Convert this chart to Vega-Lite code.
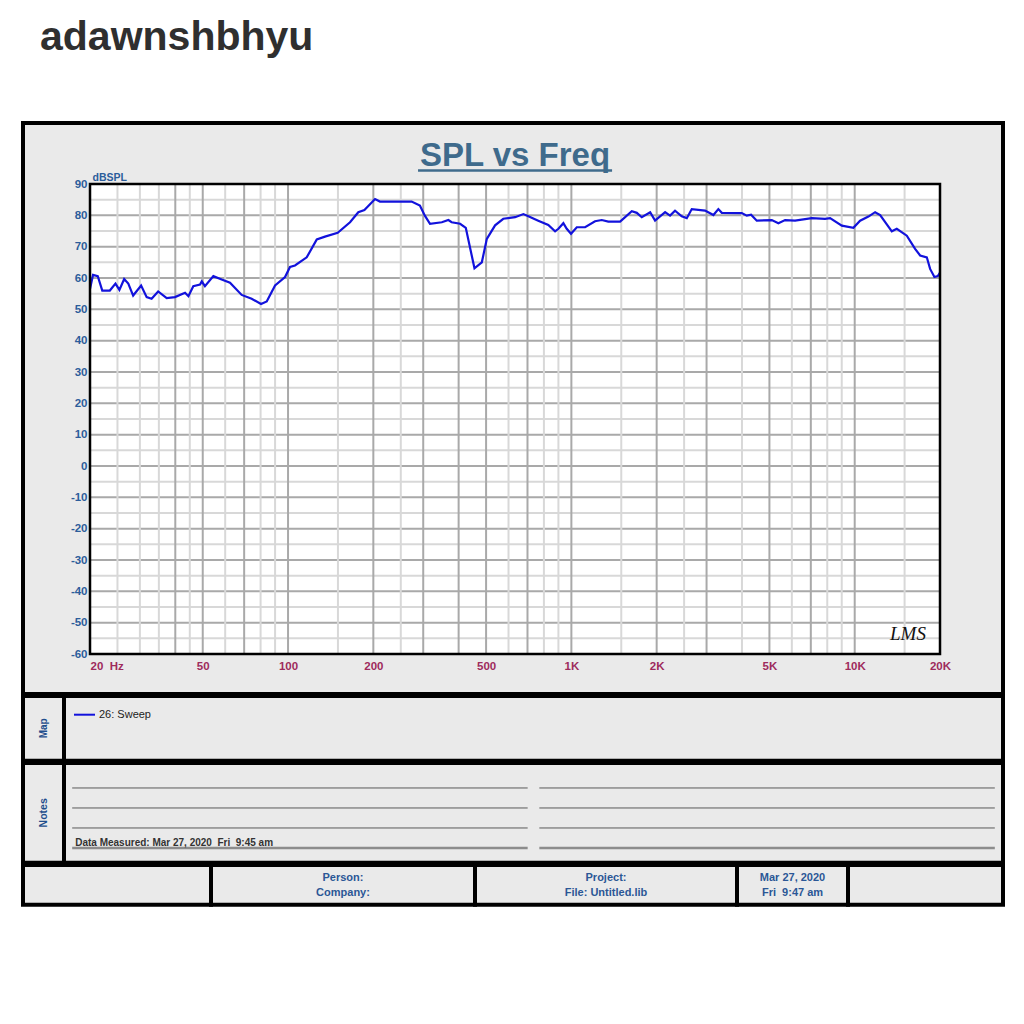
{
  "$schema": "https://vega.github.io/schema/vega-lite/v6.json",
  "background": "white",
  "padding": {"left": 21, "top": 17, "right": 0, "bottom": 0},
  "title": {"text": "adawnshbhyu", "anchor": "start", "fontSize": 41, "fontWeight": "bold", "font": "Liberation Sans", "color": "#2f2f2f", "dx": 19, "offset": 62},
  "config": {
    "view": {"fill": "#eaeaea", "stroke": "#000000", "strokeWidth": 4},
    "text": {"font": "Liberation Sans"},
    "axis": {"labelFont": "Liberation Sans", "titleFont": "Liberation Sans"},
    "legend": {"labelFont": "Liberation Sans"}
  },
  "datasets": {
    "sweep": [
      {"f": 20, "spl": 56.5}, {"f": 20.5, "spl": 61}, {"f": 21.3, "spl": 60.6}, {"f": 22.1, "spl": 56}, {"f": 23.5, "spl": 56},
      {"f": 24.6, "spl": 58.2}, {"f": 25.4, "spl": 56.2}, {"f": 26.4, "spl": 59.7}, {"f": 27.3, "spl": 58.2}, {"f": 28.4, "spl": 54.4},
      {"f": 30.3, "spl": 57.6}, {"f": 31.7, "spl": 53.9}, {"f": 33.0, "spl": 53.4}, {"f": 34.8, "spl": 55.7}, {"f": 37.3, "spl": 53.6},
      {"f": 39.9, "spl": 53.9}, {"f": 43.3, "spl": 55.3}, {"f": 44.5, "spl": 54.2}, {"f": 46.3, "spl": 57.4}, {"f": 48.9, "spl": 57.9},
      {"f": 49.6, "spl": 58.9}, {"f": 50.9, "spl": 57.4}, {"f": 54.5, "spl": 60.6}, {"f": 58.3, "spl": 59.5}, {"f": 62.4, "spl": 58.5},
      {"f": 68.6, "spl": 54.6}, {"f": 74.4, "spl": 53.4}, {"f": 80.3, "spl": 51.7}, {"f": 84.1, "spl": 52.5}, {"f": 90, "spl": 57.6},
      {"f": 97.6, "spl": 60.3}, {"f": 101.6, "spl": 63.5}, {"f": 105.8, "spl": 64.0}, {"f": 116.4, "spl": 66.6}, {"f": 126.3, "spl": 72.3},
      {"f": 135, "spl": 73.2}, {"f": 149.7, "spl": 74.4}, {"f": 165.5, "spl": 77.8}, {"f": 177, "spl": 81}, {"f": 186, "spl": 81.7},
      {"f": 202.8, "spl": 85.2}, {"f": 211, "spl": 84.4}, {"f": 245, "spl": 84.4}, {"f": 273, "spl": 84.4}, {"f": 292, "spl": 83.1},
      {"f": 304, "spl": 79.9}, {"f": 317, "spl": 77.3}, {"f": 349, "spl": 77.8}, {"f": 368, "spl": 78.5}, {"f": 378, "spl": 77.8},
      {"f": 405, "spl": 77.3}, {"f": 424, "spl": 76}, {"f": 455, "spl": 63.1}, {"f": 483, "spl": 65}, {"f": 503, "spl": 72.5},
      {"f": 538, "spl": 76.8}, {"f": 575, "spl": 78.9}, {"f": 633, "spl": 79.4}, {"f": 677, "spl": 80.4}, {"f": 705, "spl": 79.7},
      {"f": 764, "spl": 78.3}, {"f": 829, "spl": 76.9}, {"f": 876, "spl": 74.9}, {"f": 900, "spl": 75.7}, {"f": 937, "spl": 77.5},
      {"f": 963, "spl": 75.7}, {"f": 997, "spl": 74.1}, {"f": 1045, "spl": 76.2}, {"f": 1118, "spl": 76.2}, {"f": 1212, "spl": 78.1},
      {"f": 1280, "spl": 78.5}, {"f": 1350, "spl": 78}, {"f": 1486, "spl": 78}, {"f": 1634, "spl": 81.3}, {"f": 1702, "spl": 80.8},
      {"f": 1772, "spl": 79.4}, {"f": 1897, "spl": 81}, {"f": 1974, "spl": 78.3}, {"f": 2142, "spl": 81}, {"f": 2230, "spl": 79.9},
      {"f": 2322, "spl": 81.5}, {"f": 2452, "spl": 79.7}, {"f": 2555, "spl": 79.1}, {"f": 2660, "spl": 82}, {"f": 2964, "spl": 81.5},
      {"f": 3172, "spl": 80.1}, {"f": 3302, "spl": 82}, {"f": 3396, "spl": 80.8}, {"f": 3994, "spl": 80.7}, {"f": 4160, "spl": 79.9},
      {"f": 4308, "spl": 80.2}, {"f": 4512, "spl": 78.3}, {"f": 5098, "spl": 78.5}, {"f": 5378, "spl": 77.5}, {"f": 5680, "spl": 78.5},
      {"f": 6158, "spl": 78.3}, {"f": 7054, "spl": 79.1}, {"f": 7858, "spl": 78.9}, {"f": 8186, "spl": 79.1}, {"f": 9006, "spl": 76.7},
      {"f": 9894, "spl": 76}, {"f": 10448, "spl": 78.3}, {"f": 11178, "spl": 79.6}, {"f": 11804, "spl": 81}, {"f": 12296, "spl": 80.1},
      {"f": 13520, "spl": 74.9}, {"f": 14078, "spl": 75.7}, {"f": 15270, "spl": 73.5}, {"f": 16336, "spl": 69.3}, {"f": 17016, "spl": 67.2},
      {"f": 17966, "spl": 66.6}, {"f": 18456, "spl": 62.9}, {"f": 19112, "spl": 60.3}, {"f": 19644, "spl": 60.6}, {"f": 20000, "spl": 61.7}
    ],
    "ygrid": [
      {"db": -55}, {"db": -50}, {"db": -45}, {"db": -40}, {"db": -35}, {"db": -30}, {"db": -25}, {"db": -20}, {"db": -15}, {"db": -10},
      {"db": -5}, {"db": 0}, {"db": 5}, {"db": 10}, {"db": 15}, {"db": 20}, {"db": 25}, {"db": 30}, {"db": 35}, {"db": 40},
      {"db": 45}, {"db": 50}, {"db": 55}, {"db": 60}, {"db": 65}, {"db": 70}, {"db": 75}, {"db": 80}, {"db": 85}
    ],
    "xgrid": [
      {"hz": 25}, {"hz": 30}, {"hz": 35}, {"hz": 40}, {"hz": 45}, {"hz": 50}, {"hz": 60}, {"hz": 70}, {"hz": 80}, {"hz": 90},
      {"hz": 100}, {"hz": 150}, {"hz": 200}, {"hz": 250}, {"hz": 300}, {"hz": 400}, {"hz": 500}, {"hz": 600}, {"hz": 700}, {"hz": 800},
      {"hz": 900}, {"hz": 1000}, {"hz": 1500}, {"hz": 2000}, {"hz": 2500}, {"hz": 3000}, {"hz": 4000}, {"hz": 5000}, {"hz": 6000},
      {"hz": 7000}, {"hz": 8000}, {"hz": 9000}, {"hz": 10000}, {"hz": 15000}
    ],
    "noteLines": [
      {"col": "L", "line": 1}, {"col": "R", "line": 1}, {"col": "L", "line": 2}, {"col": "R", "line": 2},
      {"col": "L", "line": 3}, {"col": "R", "line": 3}, {"col": "L", "line": 4}, {"col": "R", "line": 4}
    ]
  },
  "spacing": -8,
  "resolve": {"scale": {"color": "independent"}, "legend": {"color": "independent"}},
  "vconcat": [
    {
      "width": 980,
      "height": 571,
      "layer": [
        {
          "data": {"values": [{}]},
          "mark": {"type": "rect", "fill": "#ffffff"},
          "encoding": {
            "x": {"datum": 20, "type": "quantitative", "scale": {"type": "log", "domain": [20, 20000], "range": [67, 917], "nice": false},
              "axis": {"values": [20, 50, 100, 200, 500, 1000, 2000, 5000, 10000, 20000], "labelExpr": "datum.value == 20 ? '20\u00a0\u00a0Hz' : (datum.value >= 1000 ? (datum.value / 1000) + 'K' : datum.value + '')", "offset": -40, "grid": false, "ticks": false, "tickSize": 0, "domain": false, "title": null, "labelFlush": false, "labelOverlap": false, "labelBound": false, "labelAlign": {"condition": {"test": "datum.value == 20", "value": "left"}, "value": "center"}, "labelColor": "#9e2b5c", "labelFontSize": 11.5, "labelFontWeight": "bold", "labelPadding": 6}},
            "x2": {"datum": 20000},
            "y": {"datum": -60, "type": "quantitative", "scale": {"type": "linear", "domain": [-60, 90], "range": [531, 61], "nice": false, "zero": false},
              "axis": {"values": [-60, -50, -40, -30, -20, -10, 0, 10, 20, 30, 40, 50, 60, 70, 80, 90], "labelExpr": "datum.value < 0 ? '-' + abs(datum.value) : '' + datum.value", "offset": -67, "grid": false, "ticks": false, "tickSize": 0, "domain": false, "labelColor": "#2c5d9b", "labelFontSize": 11.5, "labelFontWeight": "bold", "labelPadding": 3, "labelOverlap": false, "labelBound": false, "title": "dBSPL", "titleAngle": 0, "titleAlign": "left", "titleBaseline": "alphabetic", "titleX": 2, "titleY": 57, "titleFontSize": 10.5, "titleFontWeight": "bold", "titleColor": "#2c5d9b"}},
            "y2": {"datum": 90}
          }
        },
        {
          "data": {"name": "ygrid"},
          "mark": {"type": "rule", "strokeWidth": 2},
          "encoding": {
            "y": {"field": "db", "type": "quantitative", "scale": {"type": "linear", "domain": [-60, 90], "range": [531, 61], "nice": false, "zero": false},
              "axis": {"values": [-60, -50, -40, -30, -20, -10, 0, 10, 20, 30, 40, 50, 60, 70, 80, 90], "labelExpr": "datum.value < 0 ? '-' + abs(datum.value) : '' + datum.value", "offset": -67, "grid": false, "ticks": false, "tickSize": 0, "domain": false, "labelColor": "#2c5d9b", "labelFontSize": 11.5, "labelFontWeight": "bold", "labelPadding": 3, "labelOverlap": false, "labelBound": false, "title": "dBSPL", "titleAngle": 0, "titleAlign": "left", "titleBaseline": "alphabetic", "titleX": 2, "titleY": 57, "titleFontSize": 10.5, "titleFontWeight": "bold", "titleColor": "#2c5d9b"}},
            "x": {"datum": 20, "type": "quantitative", "scale": {"type": "log", "domain": [20, 20000], "range": [67, 917], "nice": false},
              "axis": {"values": [20, 50, 100, 200, 500, 1000, 2000, 5000, 10000, 20000], "labelExpr": "datum.value == 20 ? '20\u00a0\u00a0Hz' : (datum.value >= 1000 ? (datum.value / 1000) + 'K' : datum.value + '')", "offset": -40, "grid": false, "ticks": false, "tickSize": 0, "domain": false, "title": null, "labelFlush": false, "labelOverlap": false, "labelBound": false, "labelAlign": {"condition": {"test": "datum.value == 20", "value": "left"}, "value": "center"}, "labelColor": "#9e2b5c", "labelFontSize": 11.5, "labelFontWeight": "bold", "labelPadding": 6}},
            "x2": {"datum": 20000},
            "color": {"condition": {"test": "datum.db % 10 === 0", "value": "#a9a9a9"}, "value": "#d8d8d8"}
          }
        },
        {
          "data": {"name": "xgrid"},
          "mark": {"type": "rule", "strokeWidth": 2},
          "encoding": {
            "x": {"field": "hz", "type": "quantitative", "scale": {"type": "log", "domain": [20, 20000], "range": [67, 917], "nice": false},
              "axis": {"values": [20, 50, 100, 200, 500, 1000, 2000, 5000, 10000, 20000], "labelExpr": "datum.value == 20 ? '20\u00a0\u00a0Hz' : (datum.value >= 1000 ? (datum.value / 1000) + 'K' : datum.value + '')", "offset": -40, "grid": false, "ticks": false, "tickSize": 0, "domain": false, "title": null, "labelFlush": false, "labelOverlap": false, "labelBound": false, "labelAlign": {"condition": {"test": "datum.value == 20", "value": "left"}, "value": "center"}, "labelColor": "#9e2b5c", "labelFontSize": 11.5, "labelFontWeight": "bold", "labelPadding": 6}},
            "y": {"datum": -60, "type": "quantitative", "scale": {"type": "linear", "domain": [-60, 90], "range": [531, 61], "nice": false, "zero": false},
              "axis": {"values": [-60, -50, -40, -30, -20, -10, 0, 10, 20, 30, 40, 50, 60, 70, 80, 90], "labelExpr": "datum.value < 0 ? '-' + abs(datum.value) : '' + datum.value", "offset": -67, "grid": false, "ticks": false, "tickSize": 0, "domain": false, "labelColor": "#2c5d9b", "labelFontSize": 11.5, "labelFontWeight": "bold", "labelPadding": 3, "labelOverlap": false, "labelBound": false, "title": "dBSPL", "titleAngle": 0, "titleAlign": "left", "titleBaseline": "alphabetic", "titleX": 2, "titleY": 57, "titleFontSize": 10.5, "titleFontWeight": "bold", "titleColor": "#2c5d9b"}},
            "y2": {"datum": 90},
            "color": {"condition": {"test": "indexof([40,50,70,100,200,300,400,500,700,1000,2000,3000,5000,7000,10000], datum.hz) >= 0", "value": "#a9a9a9"}, "value": "#d8d8d8"}
          }
        },
        {
          "data": {"name": "sweep"},
          "mark": {"type": "line", "color": "#1212dc", "strokeWidth": 2.2},
          "encoding": {
            "x": {"field": "f", "type": "quantitative", "scale": {"type": "log", "domain": [20, 20000], "range": [67, 917], "nice": false},
              "axis": {"values": [20, 50, 100, 200, 500, 1000, 2000, 5000, 10000, 20000], "labelExpr": "datum.value == 20 ? '20\u00a0\u00a0Hz' : (datum.value >= 1000 ? (datum.value / 1000) + 'K' : datum.value + '')", "offset": -40, "grid": false, "ticks": false, "tickSize": 0, "domain": false, "title": null, "labelFlush": false, "labelOverlap": false, "labelBound": false, "labelAlign": {"condition": {"test": "datum.value == 20", "value": "left"}, "value": "center"}, "labelColor": "#9e2b5c", "labelFontSize": 11.5, "labelFontWeight": "bold", "labelPadding": 6}},
            "y": {"field": "spl", "type": "quantitative", "scale": {"type": "linear", "domain": [-60, 90], "range": [531, 61], "nice": false, "zero": false},
              "axis": {"values": [-60, -50, -40, -30, -20, -10, 0, 10, 20, 30, 40, 50, 60, 70, 80, 90], "labelExpr": "datum.value < 0 ? '-' + abs(datum.value) : '' + datum.value", "offset": -67, "grid": false, "ticks": false, "tickSize": 0, "domain": false, "labelColor": "#2c5d9b", "labelFontSize": 11.5, "labelFontWeight": "bold", "labelPadding": 3, "labelOverlap": false, "labelBound": false, "title": "dBSPL", "titleAngle": 0, "titleAlign": "left", "titleBaseline": "alphabetic", "titleX": 2, "titleY": 57, "titleFontSize": 10.5, "titleFontWeight": "bold", "titleColor": "#2c5d9b"}}
          }
        },
        {
          "data": {"values": [{}]},
          "mark": {"type": "rect", "filled": false, "stroke": "#000000", "strokeWidth": 2.5},
          "encoding": {
            "x": {"datum": 20, "type": "quantitative", "scale": {"type": "log", "domain": [20, 20000], "range": [67, 917], "nice": false},
              "axis": {"values": [20, 50, 100, 200, 500, 1000, 2000, 5000, 10000, 20000], "labelExpr": "datum.value == 20 ? '20\u00a0\u00a0Hz' : (datum.value >= 1000 ? (datum.value / 1000) + 'K' : datum.value + '')", "offset": -40, "grid": false, "ticks": false, "tickSize": 0, "domain": false, "title": null, "labelFlush": false, "labelOverlap": false, "labelBound": false, "labelAlign": {"condition": {"test": "datum.value == 20", "value": "left"}, "value": "center"}, "labelColor": "#9e2b5c", "labelFontSize": 11.5, "labelFontWeight": "bold", "labelPadding": 6}},
            "x2": {"datum": 20000},
            "y": {"datum": -60, "type": "quantitative", "scale": {"type": "linear", "domain": [-60, 90], "range": [531, 61], "nice": false, "zero": false},
              "axis": {"values": [-60, -50, -40, -30, -20, -10, 0, 10, 20, 30, 40, 50, 60, 70, 80, 90], "labelExpr": "datum.value < 0 ? '-' + abs(datum.value) : '' + datum.value", "offset": -67, "grid": false, "ticks": false, "tickSize": 0, "domain": false, "labelColor": "#2c5d9b", "labelFontSize": 11.5, "labelFontWeight": "bold", "labelPadding": 3, "labelOverlap": false, "labelBound": false, "title": "dBSPL", "titleAngle": 0, "titleAlign": "left", "titleBaseline": "alphabetic", "titleX": 2, "titleY": 57, "titleFontSize": 10.5, "titleFontWeight": "bold", "titleColor": "#2c5d9b"}},
            "y2": {"datum": 90}
          }
        },
        {
          "data": {"values": [{}]},
          "mark": {"type": "text", "text": "SPL vs Freq", "fontSize": 33, "fontWeight": "bold", "color": "#3f6b8c", "align": "center", "baseline": "alphabetic"},
          "encoding": {
            "x": {"datum": 632.5, "type": "quantitative", "scale": {"type": "log", "domain": [20, 20000], "range": [67, 917], "nice": false},
              "axis": {"values": [20, 50, 100, 200, 500, 1000, 2000, 5000, 10000, 20000], "labelExpr": "datum.value == 20 ? '20\u00a0\u00a0Hz' : (datum.value >= 1000 ? (datum.value / 1000) + 'K' : datum.value + '')", "offset": -40, "grid": false, "ticks": false, "tickSize": 0, "domain": false, "title": null, "labelFlush": false, "labelOverlap": false, "labelBound": false, "labelAlign": {"condition": {"test": "datum.value == 20", "value": "left"}, "value": "center"}, "labelColor": "#9e2b5c", "labelFontSize": 11.5, "labelFontWeight": "bold", "labelPadding": 6}},
            "y": {"datum": 95.75, "type": "quantitative", "scale": {"type": "linear", "domain": [-60, 90], "range": [531, 61], "nice": false, "zero": false},
              "axis": {"values": [-60, -50, -40, -30, -20, -10, 0, 10, 20, 30, 40, 50, 60, 70, 80, 90], "labelExpr": "datum.value < 0 ? '-' + abs(datum.value) : '' + datum.value", "offset": -67, "grid": false, "ticks": false, "tickSize": 0, "domain": false, "labelColor": "#2c5d9b", "labelFontSize": 11.5, "labelFontWeight": "bold", "labelPadding": 3, "labelOverlap": false, "labelBound": false, "title": "dBSPL", "titleAngle": 0, "titleAlign": "left", "titleBaseline": "alphabetic", "titleX": 2, "titleY": 57, "titleFontSize": 10.5, "titleFontWeight": "bold", "titleColor": "#2c5d9b"}}
          }
        },
        {
          "data": {"values": [{}]},
          "mark": {"type": "rule", "color": "#3f6b8c", "strokeWidth": 2.5},
          "encoding": {
            "x": {"datum": 287.6, "type": "quantitative", "scale": {"type": "log", "domain": [20, 20000], "range": [67, 917], "nice": false},
              "axis": {"values": [20, 50, 100, 200, 500, 1000, 2000, 5000, 10000, 20000], "labelExpr": "datum.value == 20 ? '20\u00a0\u00a0Hz' : (datum.value >= 1000 ? (datum.value / 1000) + 'K' : datum.value + '')", "offset": -40, "grid": false, "ticks": false, "tickSize": 0, "domain": false, "title": null, "labelFlush": false, "labelOverlap": false, "labelBound": false, "labelAlign": {"condition": {"test": "datum.value == 20", "value": "left"}, "value": "center"}, "labelColor": "#9e2b5c", "labelFontSize": 11.5, "labelFontWeight": "bold", "labelPadding": 6}},
            "x2": {"datum": 1392},
            "y": {"datum": 94.3, "type": "quantitative", "scale": {"type": "linear", "domain": [-60, 90], "range": [531, 61], "nice": false, "zero": false},
              "axis": {"values": [-60, -50, -40, -30, -20, -10, 0, 10, 20, 30, 40, 50, 60, 70, 80, 90], "labelExpr": "datum.value < 0 ? '-' + abs(datum.value) : '' + datum.value", "offset": -67, "grid": false, "ticks": false, "tickSize": 0, "domain": false, "labelColor": "#2c5d9b", "labelFontSize": 11.5, "labelFontWeight": "bold", "labelPadding": 3, "labelOverlap": false, "labelBound": false, "title": "dBSPL", "titleAngle": 0, "titleAlign": "left", "titleBaseline": "alphabetic", "titleX": 2, "titleY": 57, "titleFontSize": 10.5, "titleFontWeight": "bold", "titleColor": "#2c5d9b"}}
          }
        },
        {
          "data": {"values": [{}]},
          "mark": {"type": "text", "text": "LMS", "font": "Liberation Serif", "fontStyle": "italic", "fontSize": 19, "color": "#111111", "align": "center", "baseline": "middle"},
          "encoding": {
            "x": {"datum": 15420, "type": "quantitative", "scale": {"type": "log", "domain": [20, 20000], "range": [67, 917], "nice": false},
              "axis": {"values": [20, 50, 100, 200, 500, 1000, 2000, 5000, 10000, 20000], "labelExpr": "datum.value == 20 ? '20\u00a0\u00a0Hz' : (datum.value >= 1000 ? (datum.value / 1000) + 'K' : datum.value + '')", "offset": -40, "grid": false, "ticks": false, "tickSize": 0, "domain": false, "title": null, "labelFlush": false, "labelOverlap": false, "labelBound": false, "labelAlign": {"condition": {"test": "datum.value == 20", "value": "left"}, "value": "center"}, "labelColor": "#9e2b5c", "labelFontSize": 11.5, "labelFontWeight": "bold", "labelPadding": 6}},
            "y": {"datum": -53.6, "type": "quantitative", "scale": {"type": "linear", "domain": [-60, 90], "range": [531, 61], "nice": false, "zero": false},
              "axis": {"values": [-60, -50, -40, -30, -20, -10, 0, 10, 20, 30, 40, 50, 60, 70, 80, 90], "labelExpr": "datum.value < 0 ? '-' + abs(datum.value) : '' + datum.value", "offset": -67, "grid": false, "ticks": false, "tickSize": 0, "domain": false, "labelColor": "#2c5d9b", "labelFontSize": 11.5, "labelFontWeight": "bold", "labelPadding": 3, "labelOverlap": false, "labelBound": false, "title": "dBSPL", "titleAngle": 0, "titleAlign": "left", "titleBaseline": "alphabetic", "titleX": 2, "titleY": 57, "titleFontSize": 10.5, "titleFontWeight": "bold", "titleColor": "#2c5d9b"}}
          }
        }
      ]
    },
    {
      "bounds": "flush",
      "spacing": 0,
      "resolve": {"scale": {"color": "independent"}, "legend": {"color": "independent"}},
      "hconcat": [
        {
          "width": 41, "height": 64.7,
          "data": {"values": [{}]},
          "mark": {"type": "text", "text": "Map", "angle": 270, "fontSize": 10, "fontWeight": "bold", "color": "#1f4e8c", "align": "center", "baseline": "middle"},
          "encoding": {
            "x": {"datum": "c", "type": "nominal", "axis": null},
            "y": {"datum": "c", "type": "nominal", "axis": null}
          }
        },
        {
          "width": 939, "height": 64.7,
          "data": {"values": [{"series": "26: Sweep"}]},
          "mark": {"type": "line", "strokeWidth": 2},
          "encoding": {
            "x": {"datum": "c", "type": "nominal", "axis": null},
            "y": {"datum": "c", "type": "nominal", "axis": null},
            "color": {
              "field": "series", "type": "nominal",
              "scale": {"range": ["#1212dc"]},
              "legend": {
                "orient": "none", "legendX": 9, "legendY": 7.2, "title": null, "padding": 0,
                "symbolType": "stroke", "symbolSize": 441, "symbolStrokeWidth": 2,
                "labelFontSize": 11, "labelColor": "#222222", "labelOffset": 3
              }
            }
          }
        }
      ]
    },
    {
      "bounds": "flush",
      "spacing": 0,
      "hconcat": [
        {
          "width": 41, "height": 99.7,
          "data": {"values": [{}]},
          "mark": {"type": "text", "text": "Notes", "angle": 270, "fontSize": 10.5, "fontWeight": "bold", "color": "#1f4e8c", "align": "center", "baseline": "middle"},
          "encoding": {
            "x": {"datum": "c", "type": "nominal", "axis": null},
            "y": {"datum": "c", "type": "nominal", "axis": null}
          }
        },
        {
          "width": 939, "height": 99.7,
          "layer": [
            {
              "data": {"name": "noteLines"},
              "mark": {"type": "rule"},
              "encoding": {
                "x": {"field": "col", "type": "nominal", "bandPosition": 0, "scale": {"type": "band", "paddingInner": 0.025, "paddingOuter": 0.0175}, "axis": null},
                "x2": {"field": "col", "bandPosition": 1},
                "y": {"field": "line", "type": "ordinal", "bandPosition": 0.5, "scale": {"type": "band", "paddingInner": 0, "paddingOuter": 0.4925, "align": 0.76}, "axis": null},
                "color": {"condition": {"test": "datum.line === 4", "value": "#8c8c8c"}, "value": "#5a5a5a"},
                "strokeWidth": {"condition": {"test": "datum.line === 4", "value": 2.5}, "value": 1}
              }
            },
            {
              "data": {"values": [{"col": "L", "line": 4}]},
              "mark": {"type": "text", "text": "Data Measured: Mar 27, 2020\u00a0\u00a0Fri\u00a0\u00a09:45 am", "fontSize": 10, "fontWeight": "bold", "color": "#333333", "align": "left", "baseline": "alphabetic", "dx": 3, "dy": -2},
              "encoding": {
                "x": {"field": "col", "type": "nominal", "bandPosition": 0, "scale": {"type": "band", "paddingInner": 0.025, "paddingOuter": 0.0175}, "axis": null},
                "y": {"field": "line", "type": "ordinal", "bandPosition": 0.5, "scale": {"type": "band", "paddingInner": 0, "paddingOuter": 0.4925, "align": 0.76}, "axis": null}
              }
            }
          ]
        }
      ]
    },
    {
      "bounds": "flush",
      "spacing": 0,
      "hconcat": [
        {
          "width": 188, "height": 39.7,
          "data": {"values": [{}]},
          "mark": {"type": "text", "text": ""},
          "encoding": {
            "x": {"datum": "c", "type": "nominal", "axis": null},
            "y": {"datum": "c", "type": "nominal", "axis": null}
          }
        },
        {
          "width": 264, "height": 39.7,
          "data": {"values": [{}]},
          "mark": {"type": "text", "text": ["Person:", "Company:"], "lineHeight": 15, "dy": -7, "fontSize": 11, "fontWeight": "bold", "color": "#2b5796", "align": "center", "baseline": "middle"},
          "encoding": {
            "x": {"datum": "c", "type": "nominal", "axis": null},
            "y": {"datum": "c", "type": "nominal", "axis": null}
          }
        },
        {
          "width": 262, "height": 39.7,
          "data": {"values": [{}]},
          "mark": {"type": "text", "text": ["Project:", "File: Untitled.lib"], "lineHeight": 15, "dy": -7, "fontSize": 11, "fontWeight": "bold", "color": "#2b5796", "align": "center", "baseline": "middle"},
          "encoding": {
            "x": {"datum": "c", "type": "nominal", "axis": null},
            "y": {"datum": "c", "type": "nominal", "axis": null}
          }
        },
        {
          "width": 111, "height": 39.7,
          "data": {"values": [{}]},
          "mark": {"type": "text", "text": ["Mar 27, 2020", "Fri\u00a0\u00a09:47 am"], "lineHeight": 15, "dy": -7, "fontSize": 11, "fontWeight": "bold", "color": "#2b5796", "align": "center", "baseline": "middle"},
          "encoding": {
            "x": {"datum": "c", "type": "nominal", "axis": null},
            "y": {"datum": "c", "type": "nominal", "axis": null}
          }
        },
        {
          "width": 155, "height": 39.7,
          "data": {"values": [{}]},
          "mark": {"type": "text", "text": ""},
          "encoding": {
            "x": {"datum": "c", "type": "nominal", "axis": null},
            "y": {"datum": "c", "type": "nominal", "axis": null}
          }
        }
      ]
    }
  ]
}
